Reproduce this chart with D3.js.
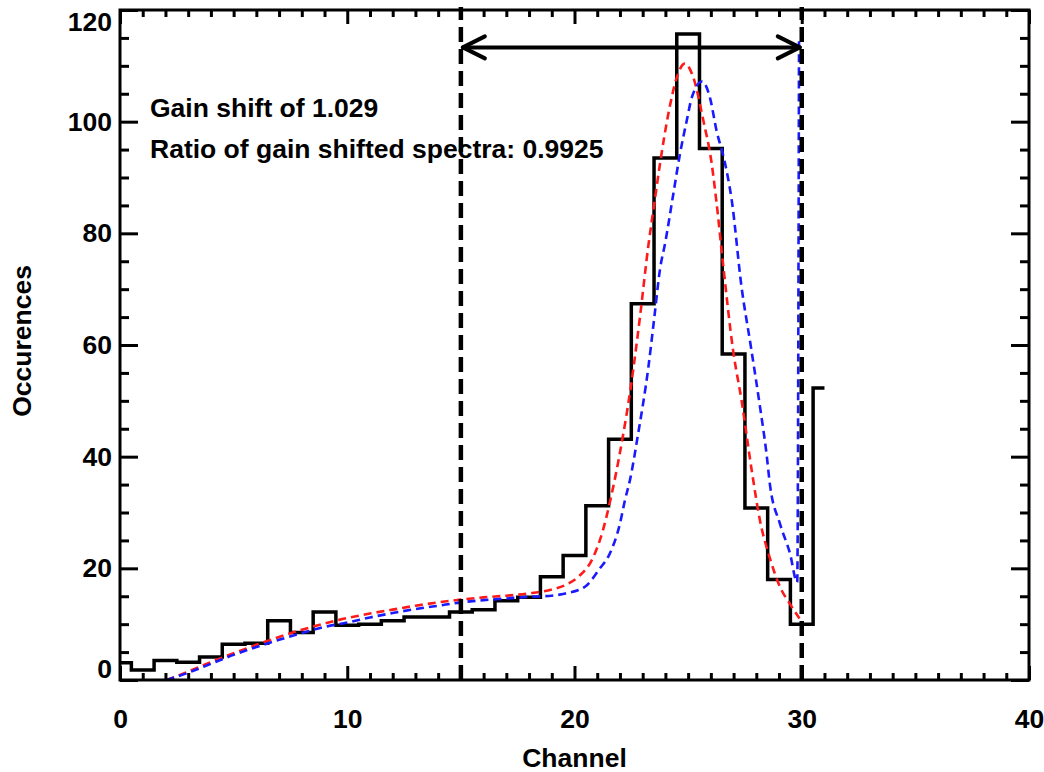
<!DOCTYPE html>
<html><head><meta charset="utf-8">
<script src="https://cdn.jsdelivr.net/npm/d3@7"></script>
<style>
html,body{margin:0;padding:0;background:#fff;}
svg{display:block;}
text{font-family:"Liberation Sans",Arial,Helvetica,sans-serif;font-weight:bold;fill:#000;}
</style></head><body>
<svg id="chart" width="1044" height="772"></svg>
<script>
// ---- data ----
const channels = [0,1,2,3,4,5,6,7,8,9,10,11,12,13,14,15,16,17,18,19,20,21,22,23,24,25,26,27,28,29,30,31];
const counts   = [3.1,1.8,3.5,3.2,4.1,6.4,6.6,10.6,8.5,12.2,9.8,10.0,10.6,11.3,11.3,12.2,12.6,14.2,14.8,18.5,22.3,31.2,43.1,67.4,93.5,115.7,95.2,58.4,30.8,18.0,10.0,52.3];

const fitX = [2.05,3,4,5,6,7,8,9,10,11,12,13,14,15,16,17,18,19,19.6,20.2,20.8,21.25,21.56,22.07,22.5,22.88,23.25,23.5,23.76,24.13,24.5,24.85,25.23,25.67,26.04,26.25,26.55,26.98,27.35,27.8,28.16,28.6,29.04,29.5,29.9];
const fitY = [0,1.5,3.2,4.8,6.3,7.7,9.0,10.1,11.1,11.9,12.6,13.3,13.9,14.4,14.8,15.1,15.5,16.2,17.0,18.6,21.8,26.8,31.9,42.3,53.1,65.0,77.8,85.0,92.4,101.4,107.9,110.4,107.9,100.2,92.4,85.5,74.0,59.0,50.1,37.5,28.6,21.8,16.7,13.5,11.0];

const shiftX = [2.05,3,4,5,6,7,8,9,10,11,12,13,14,15,16,17,18,19,19.6,20.46,21.1,21.56,22.0,22.22,22.44,22.8,23.25,23.5,23.76,24.0,24.35,24.64,24.94,25.16,25.62,25.96,26.25,26.6,26.92,27.35,27.75,28.16,28.45,28.6,29.04,29.48,29.8,29.88];
const shiftY = [0,1.3,2.9,4.5,5.9,7.2,8.4,9.5,10.3,11.2,12.0,12.7,13.3,13.9,14.3,14.6,14.9,15.1,15.5,16.7,19.9,22.7,28.0,32.2,35.8,44.1,56.0,64.5,73.5,78.5,87.1,94.2,100.2,104.3,107.2,104.3,98.4,93.0,85.9,70.4,60.0,49.0,40.5,35.0,28.0,22.7,17.5,115.0];

const xMajor = [0,10,20,30,40];
const yMajor = [0,20,40,60,80,100,120];
const windowLo = 15, windowHi = 30;
const arrowLevel = 113.3;
const annotations = ["Gain shift of 1.029", "Ratio of gain shifted spectra: 0.9925"];
const xTitle = "Channel", yTitle = "Occurences";

// ---- layout ----
const L = 120, R = 1029, T = 10, B = 680;
const svg = d3.select("#chart");
const x = d3.scaleLinear().domain([0,40]).range([L,R]);
const y = d3.scaleLinear().domain([0,120]).range([B,T]);
const fs = 26.5;

const plot = svg.append("g");
plot.append("defs").append("clipPath").attr("id","clip")
  .append("rect").attr("x",L).attr("y",T-4).attr("width",R-L).attr("height",B-T+4);

// histogram (step, bins centered on channels)
const pts = channels.map((c,i)=>[c,counts[i]]);
plot.append("path").datum(pts)
  .attr("d", d3.line().x(d=>x(d[0])).y(d=>y(d[1])).curve(d3.curveStep))
  .attr("fill","none").attr("stroke","#000").attr("stroke-width",3.5)
  .attr("stroke-linejoin","miter");

// fitted curves
const lineGen = d3.line().x(d=>x(d[0])).y(d=>y(d[1])).curve(d3.curveMonotoneX);
plot.append("path").datum(fitX.map((v,i)=>[v,fitY[i]]))
  .attr("d", lineGen).attr("fill","none").attr("stroke","#ff1a1a")
  .attr("stroke-width",2.6).attr("stroke-dasharray","8,5").attr("clip-path","url(#clip)");
plot.append("path").datum(shiftX.map((v,i)=>[v,shiftY[i]]))
  .attr("d", lineGen).attr("fill","none").attr("stroke","#1a1aff")
  .attr("stroke-width",2.6).attr("stroke-dasharray","8,5").attr("clip-path","url(#clip)");

// window lines
[windowLo, windowHi].forEach(v=>{
  plot.append("line").attr("x1",x(v)).attr("x2",x(v)).attr("y1",y(0)).attr("y2",y(120)-3)
    .attr("stroke","#000").attr("stroke-width",4.5).attr("stroke-dasharray","15,7");
});

// arrow
const ay = y(arrowLevel), ax1 = x(windowLo)+2, ax2 = x(windowHi)-2;
const arr = plot.append("g").attr("stroke","#000").attr("stroke-width",4).attr("fill","none")
  .attr("stroke-linecap","round").attr("stroke-linejoin","round");
arr.append("line").attr("x1",ax1).attr("x2",ax2).attr("y1",ay).attr("y2",ay);
arr.append("path").attr("d",`M${ax1+22},${ay-11}L${ax1},${ay}L${ax1+22},${ay+11}`);
arr.append("path").attr("d",`M${ax2-22},${ay-11}L${ax2},${ay}L${ax2-22},${ay+11}`);

// ticks via d3 axes (inward on all four sides)
const xMinor = d3.range(0,41,1).filter(v=>!xMajor.includes(v));
const yMinor = d3.range(0,121,5).filter(v=>!yMajor.includes(v));
function tickAxis(axis, vals, size, tr){
  const g = svg.append("g").attr("transform",tr)
    .call(axis.tickValues(vals).tickSize(size).tickFormat(""));
  g.select(".domain").remove();
  g.selectAll("line").attr("stroke","#000").attr("stroke-width",3);
}
tickAxis(d3.axisTop(x), xMajor, 14, `translate(0,${B})`);
tickAxis(d3.axisTop(x), xMinor, 7, `translate(0,${B})`);
tickAxis(d3.axisBottom(x), xMajor, 14, `translate(0,${T})`);
tickAxis(d3.axisBottom(x), xMinor, 7, `translate(0,${T})`);
tickAxis(d3.axisRight(y), yMajor, 18, `translate(${L},0)`);
tickAxis(d3.axisRight(y), yMinor, 9, `translate(${L},0)`);
tickAxis(d3.axisLeft(y), yMajor, 18, `translate(${R},0)`);
tickAxis(d3.axisLeft(y), yMinor, 9, `translate(${R},0)`);

// frame
svg.append("rect").attr("x",L).attr("y",T).attr("width",R-L).attr("height",B-T)
  .attr("fill","none").attr("stroke","#000").attr("stroke-width",3);

// tick labels
const xl = svg.append("g").attr("transform",`translate(0,${B})`)
  .call(d3.axisBottom(x).tickValues(xMajor).tickSize(0).tickPadding(29).tickFormat(d3.format("d")));
xl.select(".domain").remove();
xl.selectAll("text").attr("font-size",fs).attr("font-family",null).attr("fill","#000");

const yl = svg.append("g").attr("transform",`translate(${L},0)`)
  .call(d3.axisLeft(y).tickValues(yMajor).tickSize(0).tickPadding(8).tickFormat(d3.format("d")));
yl.select(".domain").remove();
yl.selectAll("text").attr("font-size",fs).attr("font-family",null).attr("fill","#000")
  .attr("y", d=>{ const p=y(d); const c=Math.min(B-11, Math.max(T+12, p)); return c-p; });

// axis titles
svg.append("text").attr("x",(L+R)/2 + 0).attr("y",767).attr("text-anchor","middle")
  .attr("font-size",fs).text(xTitle);
svg.append("text").attr("transform",`translate(31,341) rotate(-90)`).attr("text-anchor","middle")
  .attr("font-size",fs).text(yTitle);

// annotations
svg.append("text").attr("x",150).attr("y",117).attr("font-size",fs).text(annotations[0]);
svg.append("text").attr("x",150).attr("y",158).attr("font-size",fs).text(annotations[1]);
</script>
</body></html>
